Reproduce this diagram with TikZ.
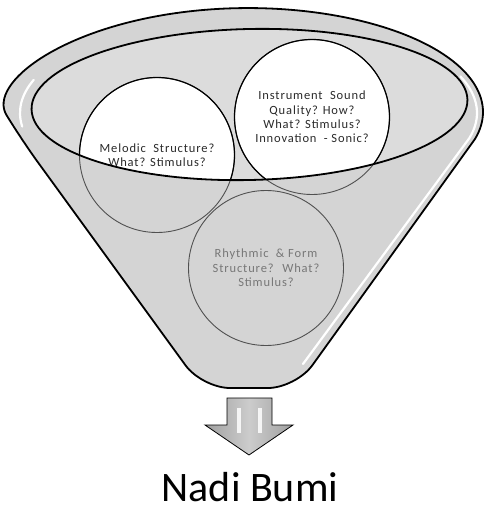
\documentclass[tikz,border=0pt]{standalone}
\usepackage{fontspec}
\setmainfont{Carlito}
\newfontfamily\topicfont[LetterSpace=7]{Carlito}
\usetikzlibrary{backgrounds}

\definecolor{funnelgray}{HTML}{D4D4D4}
\definecolor{mouthgray}{HTML}{DCDCDC}
\definecolor{edgegray}{HTML}{505050}
\definecolor{labelgray}{HTML}{2A2A2A}
\definecolor{dimgray}{HTML}{777777}

\begin{document}
\begin{tikzpicture}[x=1pt,y=1pt]

\tikzstyle{topic}=[circle, draw=edgegray, line width=0.9pt, minimum size=155pt, inner sep=0pt,
align=center, text=labelgray, font=\topicfont\fontsize{12.5}{14.3}\selectfont]
\tikzstyle{sunk}=[topic, text=dimgray]
\tikzstyle{rim}=[draw=black, line width=1.8pt]
\tikzstyle{shine}=[draw=white, line width=2.2pt, line cap=round]
\tikzstyle{mouth}=[rotate around={1.3:(249.5,-104.5)}]

\useasboundingbox (0,0) rectangle (483,-511);

\node[topic] (melodic) at (157,-155) {Melodic~ Structure?\\What? Stimulus?};
\node[topic] (instrument) at (312,-117) {Instrument~ Sound\\Quality? How?\\What? Stimulus?\\Innovation~ - Sonic?};
\node[sunk] (rhythmic) at (266,-268) {Rhythmic~ \& Form\\Structure?~ What?\\Stimulus?};

\begin{scope}[on background layer]
	\fill[funnelgray] (21,-139) arc[start angle=195, end angle=-15, x radius=235, y radius=104]
		[rounded corners=28pt] -- (296,-388) -- (202,-388) -- cycle;
	\fill[mouthgray, mouth] (249.5,-104.5) ellipse[x radius=218, y radius=75.5];
	\begin{scope}
		\clip[mouth] (249.5,-104.5) ellipse[x radius=218, y radius=75.5];
		\fill[white] (melodic.center) circle[radius=77.5];
		\fill[white] (instrument.center) circle[radius=77.5];
	\end{scope}
\end{scope}

% circle edges inside the mouth
\begin{scope}
	\clip[mouth] (249.5,-104.5) ellipse[x radius=218, y radius=75.5];
	\draw[black, line width=1.2pt] (melodic.center) circle[radius=77.5];
	\draw[black, line width=1.2pt] (instrument.center) circle[radius=77.5];
\end{scope}

% funnel
\draw[rim] (21,-139) arc[start angle=195, end angle=-15, x radius=235, y radius=104]
	[rounded corners=28pt] -- (296,-388) -- (202,-388) -- cycle;
\draw[rim, mouth] (249.5,-104.5) ellipse[x radius=218, y radius=75.5];
\draw[shine] (248,-113) ++(22:229 and 98) arc[start angle=22, end angle=-15, x radius=229, y radius=98]
	-- (303,-364);
\draw[shine] (248,-113) ++(160:228 and 97) arc[start angle=160, end angle=188, x radius=228, y radius=97];

% arrow
\draw[black, line width=0.8pt, left color=gray!75, right color=gray!75, middle color=gray!40]
	(227,-398) -- (272,-398) -- (272,-425) -- (293,-425) -- (249,-455) -- (205,-425) -- (227,-425) -- cycle;
\fill[white, opacity=0.85] (237,-408) rectangle (241,-433);
\fill[white, opacity=0.85] (258,-408) rectangle (262,-433);

\node[font=\fontsize{42}{42}\selectfont, anchor=base, inner sep=0pt, text depth=0pt] (result) at (250,-501) {Nadi Bumi};

\end{tikzpicture}
\end{document}
